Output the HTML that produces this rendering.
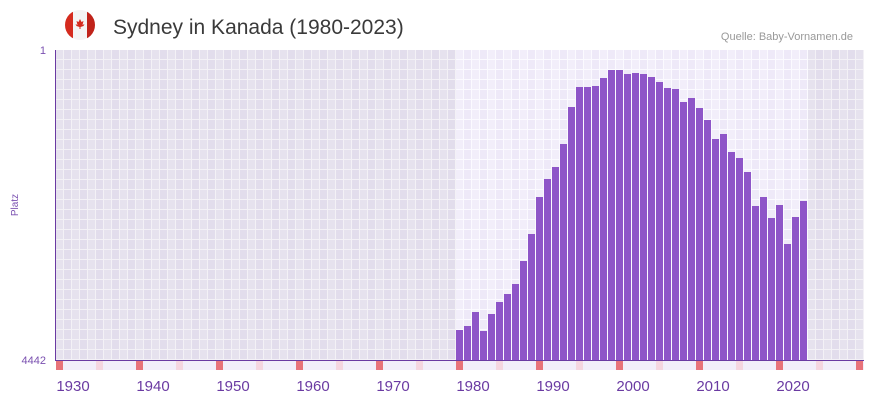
<!DOCTYPE html>
<html><head><meta charset="utf-8"><style>
body{margin:0;background:#fff;width:873px;height:402px;overflow:hidden;font-family:"Liberation Sans",sans-serif}
</style></head><body>
<svg width="873" height="402" xmlns="http://www.w3.org/2000/svg" style="display:block">
<defs>
<pattern id="gd" x="56" y="50" width="16" height="10" patternUnits="userSpaceOnUse">
<rect width="16" height="10" fill="#f3f1f6"/>
<rect x="0" y="0" width="7" height="9" fill="#e6e2ee"/>
<rect x="8" y="0" width="7" height="9" fill="#e2ddec"/>
</pattern>
<pattern id="gl" x="56" y="50" width="16" height="10" patternUnits="userSpaceOnUse">
<rect width="16" height="10" fill="#fbfaff"/>
<rect x="0" y="0" width="7" height="9" fill="#f2eefa"/>
<rect x="8" y="0" width="7" height="9" fill="#eee9f8"/>
</pattern>
<clipPath id="fc"><circle cx="80" cy="25" r="15"/></clipPath>
</defs>
<g clip-path="url(#fc)">
<rect x="65" y="10" width="30" height="30" fill="#f4f4f4"/>
<rect x="65" y="10" width="8" height="30" fill="#d52b1e"/>
<rect x="87" y="10" width="8" height="30" fill="#c0231a"/>
</g>
<path d="M80,19 l1.5,3 2,-1 -1,4 2,-1 -1,2 -3,1 0,2 -1,0 0,-2 -3,-1 -1,-2 2,1 -1,-4 2,1z" fill="#d52b1e"/>
<text x="113" y="34" font-size="21" fill="#3a3a3a">Sydney in Kanada (1980-2023)</text>
<text x="853" y="40" font-size="11" fill="#999" text-anchor="end">Quelle: Baby-Vornamen.de</text>
<rect x="56" y="50" width="400" height="310" fill="url(#gd)"/>
<rect x="456" y="50" width="352" height="310" fill="url(#gl)"/>
<rect x="808" y="50" width="56" height="310" fill="url(#gd)"/>
<line x1="55.5" y1="50" x2="55.5" y2="361" stroke="#6a3aa2" stroke-width="1"/>
<text x="46" y="54" font-size="11" fill="#7a50b0" text-anchor="end">1</text>
<text x="46" y="364" font-size="11" fill="#7a50b0" text-anchor="end">4442</text>
<text x="18" y="205" font-size="10" fill="#7a50b0" text-anchor="middle" transform="rotate(-90 18 205)">Platz</text>
<g fill="#8e55c8">
<rect x="456" y="330" width="7" height="30"/><rect x="464" y="326" width="7" height="34"/><rect x="472" y="312" width="7" height="48"/><rect x="480" y="331" width="7" height="29"/><rect x="488" y="314" width="7" height="46"/><rect x="496" y="302" width="7" height="58"/><rect x="504" y="294" width="7" height="66"/><rect x="512" y="284" width="7" height="76"/><rect x="520" y="261" width="7" height="99"/><rect x="528" y="234" width="7" height="126"/><rect x="536" y="197" width="7" height="163"/><rect x="544" y="179" width="7" height="181"/><rect x="552" y="167" width="7" height="193"/><rect x="560" y="144" width="7" height="216"/><rect x="568" y="107" width="7" height="253"/><rect x="576" y="87" width="7" height="273"/><rect x="584" y="87" width="7" height="273"/><rect x="592" y="86" width="7" height="274"/><rect x="600" y="78" width="7" height="282"/><rect x="608" y="70" width="7" height="290"/><rect x="616" y="70" width="7" height="290"/><rect x="624" y="74" width="7" height="286"/><rect x="632" y="73" width="7" height="287"/><rect x="640" y="74" width="7" height="286"/><rect x="648" y="77" width="7" height="283"/><rect x="656" y="82" width="7" height="278"/><rect x="664" y="88" width="7" height="272"/><rect x="672" y="89" width="7" height="271"/><rect x="680" y="102" width="7" height="258"/><rect x="688" y="98" width="7" height="262"/><rect x="696" y="108" width="7" height="252"/><rect x="704" y="120" width="7" height="240"/><rect x="712" y="139" width="7" height="221"/><rect x="720" y="134" width="7" height="226"/><rect x="728" y="152" width="7" height="208"/><rect x="736" y="158" width="7" height="202"/><rect x="744" y="172" width="7" height="188"/><rect x="752" y="206" width="7" height="154"/><rect x="760" y="197" width="7" height="163"/><rect x="768" y="218" width="7" height="142"/><rect x="776" y="205" width="7" height="155"/><rect x="784" y="244" width="7" height="116"/><rect x="792" y="217" width="7" height="143"/><rect x="800" y="201" width="7" height="159"/>
</g>
<line x1="55" y1="360.5" x2="864" y2="360.5" stroke="#6a3aa2" stroke-width="1"/>
<rect x="56" y="361" width="808" height="9" fill="#f2eefa"/>
<g fill="#f5d6e0">
<rect x="96" y="361" width="7" height="9"/><rect x="176" y="361" width="7" height="9"/><rect x="256" y="361" width="7" height="9"/><rect x="336" y="361" width="7" height="9"/><rect x="416" y="361" width="7" height="9"/><rect x="496" y="361" width="7" height="9"/><rect x="576" y="361" width="7" height="9"/><rect x="656" y="361" width="7" height="9"/><rect x="736" y="361" width="7" height="9"/><rect x="816" y="361" width="7" height="9"/>
</g>
<g fill="#e8737a">
<rect x="56" y="361" width="7" height="9"/><rect x="136" y="361" width="7" height="9"/><rect x="216" y="361" width="7" height="9"/><rect x="296" y="361" width="7" height="9"/><rect x="376" y="361" width="7" height="9"/><rect x="456" y="361" width="7" height="9"/><rect x="536" y="361" width="7" height="9"/><rect x="616" y="361" width="7" height="9"/><rect x="696" y="361" width="7" height="9"/><rect x="776" y="361" width="7" height="9"/><rect x="856" y="361" width="7" height="9"/>
</g>
<g font-size="15" fill="#6a3aa2" text-anchor="middle">
<text x="73" y="391">1930</text><text x="153" y="391">1940</text><text x="233" y="391">1950</text><text x="313" y="391">1960</text><text x="393" y="391">1970</text><text x="473" y="391">1980</text><text x="553" y="391">1990</text><text x="633" y="391">2000</text><text x="713" y="391">2010</text><text x="793" y="391">2020</text>
</g>
</svg>
</body></html>
